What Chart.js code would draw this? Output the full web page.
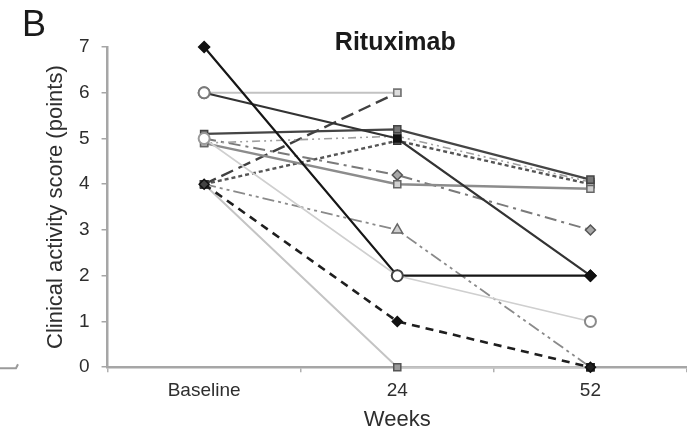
<!DOCTYPE html>
<html>
<head>
<meta charset="utf-8">
<script src="https://cdn.jsdelivr.net/npm/chart.js@4/dist/chart.umd.min.js"></script>
<style>
  html, body { margin: 0; padding: 0; background: #fff; }
  #wrap { width: 687px; height: 431px; }
</style>
</head>
<body>
<div id="wrap"><canvas id="c" width="687" height="431"></canvas></div>
<script>
// Clinical activity score per patient at each visit (null = no visit recorded)
const weeks = ['Baseline', '24', '52'];
const yTicks = [0, 1, 2, 3, 4, 5, 6, 7];

const p01 = [7, 2, 2];
const p02 = [6, 6, null];
const p03 = [6, 5, 2];
const p04 = [5.1, 5.2, 4.1];
const p05 = [4.9, 5.05, 4.05];
const p06 = [4.9, 4.0, 3.9];
const p07 = [5.0, 4.2, 3.0];
const p08 = [4, 6, null];
const p09 = [4, 4.95, 4.0];
const p10 = [4, 3, 0];
const p11 = [4, 1, 0];
const p12 = [4, 0, 0];
const p13 = [5, 2, 1];

const FONT = '"Liberation Sans", Arial, Helvetica, sans-serif';

function series(data, o) {
  return Object.assign({
    data: data,
    fill: false,
    clip: false,
    tension: 0,
    spanGaps: false,
    pointRadius: 5,
    pointHoverRadius: 5,
    pointBorderWidth: 1.5
  }, o);
}

const datasets = [
  series(p13, { borderColor: '#cfcfcf', borderWidth: 1.6,
    pointStyle: 'circle', pointRadius: 5.5, pointBorderWidth: 2,
    pointBackgroundColor: '#ffffff', pointBorderColor: ['#9a9a9a', '#444444', '#8a8a8a'] }),
  series(p01, { borderColor: '#161616', borderWidth: 2.2,
    pointStyle: 'rectRot', pointRadius: 5.5,
    pointBackgroundColor: '#111111', pointBorderColor: '#111111' }),
  series(p03, { borderColor: '#333333', borderWidth: 2.2,
    pointStyle: ['circle', 'rect', 'rectRot'], pointRadius: [5.5, 5, 5.5], pointBorderWidth: [2, 1.5, 1.5],
    pointBackgroundColor: ['#ffffff', '#111111', '#111111'], pointBorderColor: ['#7a7a7a', '#111111', '#111111'] }),
  series(p11, { borderColor: '#1e1e1e', borderWidth: 2.6, borderDash: [8, 6],
    pointStyle: 'rectRot', pointRadius: 5,
    pointBackgroundColor: ['#444444', '#111111', '#222222'], pointBorderColor: '#111111' }),
  series(p04, { borderColor: '#454545', borderWidth: 2.2,
    pointStyle: 'rect', pointBackgroundColor: '#777777', pointBorderColor: '#444444' }),
  series(p05, { borderColor: '#a0a0a0', borderWidth: 1.6, borderDash: [8, 4, 2, 4, 2, 4],
    pointStyle: 'rect', pointBackgroundColor: '#bdbdbd', pointBorderColor: '#666666' }),
  series(p06, { borderColor: '#8c8c8c', borderWidth: 2.4,
    pointStyle: 'rect', pointBackgroundColor: '#d0d0d0', pointBorderColor: '#666666' }),
  series(p07, { borderColor: '#7a7a7a', borderWidth: 2, borderDash: [12, 5, 3, 5],
    pointStyle: 'rectRot', pointBackgroundColor: '#a8a8a8', pointBorderColor: '#555555' }),
  series(p08, { borderColor: '#404040', borderWidth: 2.4, borderDash: [13, 6],
    pointStyle: 'rect', pointBackgroundColor: ['#555555', '#dddddd'], pointBorderColor: ['#333333', '#777777'] }),
  series(p09, { borderColor: '#555555', borderWidth: 2.4, borderDash: [4, 3],
    pointStyle: 'rect', pointBackgroundColor: '#666666', pointBorderColor: '#333333' }),
  series(p10, { borderColor: '#8a8a8a', borderWidth: 1.8, borderDash: [12, 4, 3, 4, 3, 4],
    pointStyle: ['rect', 'triangle', 'rect'], pointRadius: [5, 6, 5],
    pointBackgroundColor: ['#555555', '#cfcfcf', '#333333'], pointBorderColor: ['#333333', '#666666', '#222222'] }),
  series(p12, { borderColor: '#c4c4c4', borderWidth: 2,
    pointStyle: 'rect', pointBackgroundColor: ['#555555', '#9a9a9a', '#444444'], pointBorderColor: ['#333333', '#555555', '#222222'] }),
  series(p02, { borderColor: '#c2c2c2', borderWidth: 2.2,
    pointStyle: ['circle', 'rect'], pointRadius: [5.5, 5], pointBorderWidth: [2, 1.5],
    pointBackgroundColor: ['#ffffff', '#e2e2e2'], pointBorderColor: ['#7a7a7a', '#777777'] })
];

// Panel letter, chart heading and the cut-off axis end of the neighbouring panel
const decorations = {
  id: 'decorations',
  afterDraw(chart) {
    const ctx = chart.ctx;
    const area = chart.chartArea;
    const y0 = chart.scales.y.getPixelForValue(0);
    ctx.save();
    ctx.fillStyle = '#1a1a1a';
    ctx.textBaseline = 'middle';
    ctx.textAlign = 'left';
    ctx.font = '36px ' + FONT;
    ctx.fillText('B', 22, 26);
    ctx.textAlign = 'center';
    ctx.font = 'bold 25px ' + FONT;
    ctx.fillText('Rituximab', (area.left + area.right) / 2 - 2, 43);
    ctx.strokeStyle = '#9a9a9a';
    ctx.lineWidth = 2;
    ctx.beginPath();
    ctx.moveTo(0, y0 + 1);
    ctx.lineTo(16, y0 + 1);
    ctx.lineTo(18, y0 - 3);
    ctx.stroke();
    ctx.restore();
  }
};

new Chart(document.getElementById('c'), {
  type: 'line',
  data: { labels: weeks, datasets: datasets },
  options: {
    responsive: false,
    animation: false,
    events: [],
    layout: { autoPadding: false, padding: { top: 47, right: 0, bottom: 0, left: 30 } },
    plugins: {
      legend: { display: false },
      title: { display: false },
      tooltip: { enabled: false }
    },
    scales: {
      x: {
        type: 'category',
        offset: true,
        grid: {
          offset: true,
          drawOnChartArea: false,
          drawTicks: true,
          tickLength: 5,
          color: '#b0b0b0',
          lineWidth: 1.5
        },
        border: { display: true, color: '#a6a6a6', width: 2.5 },
        ticks: {
          color: '#2e2e2e',
          padding: 7,
          maxRotation: 0,
          font: { family: FONT, size: 19 }
        },
        title: {
          display: true,
          text: 'Weeks',
          color: '#2e2e2e',
          font: { family: FONT, size: 22, lineHeight: 1.0 },
          padding: { top: 0, bottom: 0 }
        }
      },
      y: {
        min: 0,
        max: 7,
        afterBuildTicks(scale) {
          scale.ticks = yTicks.map(v => ({ value: v }));
        },
        grid: {
          drawOnChartArea: false,
          drawTicks: true,
          tickLength: 6,
          color: '#a6a6a6',
          lineWidth: 1.5
        },
        border: { display: true, color: '#a6a6a6', width: 2.5 },
        ticks: {
          color: '#2e2e2e',
          padding: 12,
          font: { family: FONT, size: 19 }
        },
        title: {
          display: true,
          text: 'Clinical activity score (points)',
          color: '#2e2e2e',
          font: { family: FONT, size: 22, lineHeight: 1.0 },
          padding: { top: 15, bottom: 0 }
        }
      }
    }
  },
  plugins: [decorations]
});
</script>
</body>
</html>
